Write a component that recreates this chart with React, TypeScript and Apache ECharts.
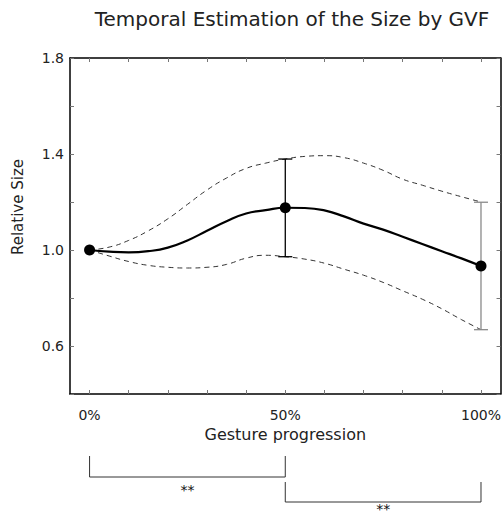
import React, { useEffect, useRef } from "react";
import * as echarts from "echarts";

const progress = [0, 5, 10, 15, 20, 25, 30, 35, 40, 45, 50, 55, 60, 65, 70, 75, 80, 85, 90, 95, 100];
const meanSize = [1.0, 0.993, 0.99, 0.995, 1.01, 1.04, 1.08, 1.12, 1.152, 1.166, 1.176, 1.175, 1.165, 1.14, 1.11, 1.085, 1.055, 1.025, 0.995, 0.965, 0.933];
const upperSize = [1.0, 1.012, 1.04, 1.08, 1.13, 1.19, 1.25, 1.3, 1.34, 1.362, 1.379, 1.39, 1.393, 1.385, 1.362, 1.332, 1.295, 1.27, 1.245, 1.222, 1.2];
const lowerSize = [1.0, 0.975, 0.952, 0.936, 0.928, 0.925, 0.928, 0.94, 0.966, 0.978, 0.972, 0.962, 0.945, 0.92, 0.895, 0.865, 0.83, 0.795, 0.755, 0.71, 0.668];

const markerX = [0, 50, 100];
const markerY = [1.0, 1.176, 0.933];

const errX = [50, 100];
const errLow = [0.972, 0.668];
const errHigh = [1.379, 1.199];
const errColors = ["#000000", "#8a8a8a"];

const xTicks = [0, 10, 20, 30, 40, 50, 60, 70, 80, 90, 100];
const xLabels = [0, 50, 100];
const yLabels = [0.6, 1.0, 1.4, 1.8];

const comparisons = [
  { from: 0, to: 50, label: "**", top: 456, bottom: 477, labelY: 490 },
  { from: 50, to: 100, label: "**", top: 482, bottom: 502, labelY: 509 },
];

const FONT = "DejaVu Sans";

export default function App() {
  const ref = useRef<HTMLDivElement>(null);
  useEffect(() => {
    if (!ref.current) return;
    const chart = echarts.init(ref.current, null, { renderer: "svg" });
    const pair = (ys: number[]) => progress.map((x, i) => [x, ys[i]]);
    const tickStyle = { show: true, inside: true, length: 4, lineStyle: { color: "#777", width: 1 } };
    const lineStyle = { show: true, onZero: false, lineStyle: { color: "#000", width: 1.5 } };
    chart.setOption({
      animation: false,
      backgroundColor: "#fff",
      title: {
        text: "Temporal Estimation of the Size by GVF",
        left: 287,
        top: 4,
        textAlign: "center",
        textStyle: { fontFamily: FONT, fontSize: 20, fontWeight: "normal", color: "#222" },
      },
      grid: { left: 70, top: 58, width: 431, height: 336, containLabel: false },
      xAxis: [
        {
          type: "value",
          min: -5,
          max: 105,
          position: "bottom",
          axisLine: lineStyle,
          axisTick: { ...tickStyle, customValues: xTicks },
          axisLabel: {
            customValues: xLabels,
            formatter: (v: number) => v + "%",
            fontFamily: FONT,
            fontSize: 14,
            color: "#222",
            margin: 14,
          },
          splitLine: { show: false },
          name: "Gesture progression",
          nameLocation: "middle",
          nameGap: 31,
          nameTextStyle: { fontFamily: FONT, fontSize: 16, color: "#222" },
        },
        {
          type: "value",
          min: -5,
          max: 105,
          position: "top",
          axisLine: lineStyle,
          axisTick: { ...tickStyle, customValues: xTicks },
          axisLabel: { show: false },
          splitLine: { show: false },
        },
      ],
      yAxis: [
        {
          type: "value",
          min: 0.4,
          max: 1.8,
          interval: 0.2,
          position: "left",
          axisLine: lineStyle,
          axisTick: tickStyle,
          axisLabel: {
            customValues: yLabels,
            formatter: (v: number) => v.toFixed(1),
            fontFamily: FONT,
            fontSize: 14,
            color: "#222",
            margin: 6,
          },
          splitLine: { show: false },
        },
        {
          type: "value",
          min: 0.4,
          max: 1.8,
          interval: 0.2,
          position: "right",
          axisLine: lineStyle,
          axisTick: tickStyle,
          axisLabel: { show: false },
          splitLine: { show: false },
        },
      ],
      series: [
        {
          type: "line",
          data: pair(upperSize),
          smooth: true,
          showSymbol: false,
          lineStyle: { color: "#333", width: 1, type: [5, 4] },
          z: 2,
        },
        {
          type: "line",
          data: pair(lowerSize),
          smooth: true,
          showSymbol: false,
          lineStyle: { color: "#333", width: 1, type: [5, 4] },
          z: 2,
        },
        {
          type: "line",
          data: pair(meanSize),
          smooth: true,
          showSymbol: false,
          lineStyle: { color: "#000", width: 2.2 },
          z: 3,
        },
        {
          type: "custom",
          data: errX.map((x, i) => [x, errLow[i], errHigh[i], i]),
          renderItem: (params: any, api: any) => {
            const x = api.value(0);
            const lo = api.coord([x, api.value(1)]);
            const hi = api.coord([x, api.value(2)]);
            const color = errColors[api.value(3)];
            const hw = 7;
            const style = { stroke: color, lineWidth: 1.3 };
            return {
              type: "group",
              children: [
                { type: "line", shape: { x1: lo[0], y1: lo[1], x2: hi[0], y2: hi[1] }, style },
                { type: "line", shape: { x1: hi[0] - hw, y1: hi[1], x2: hi[0] + hw, y2: hi[1] }, style },
                { type: "line", shape: { x1: lo[0] - hw, y1: lo[1], x2: lo[0] + hw, y2: lo[1] }, style },
              ],
            };
          },
          z: 4,
        },
        {
          type: "scatter",
          data: markerX.map((x, i) => [x, markerY[i]]),
          symbol: "circle",
          symbolSize: 11,
          itemStyle: { color: "#000", opacity: 1 },
          z: 5,
        },
      ],
    });

    const graphics: any[] = [
      {
        type: "text",
        x: 18,
        y: 207,
        rotation: Math.PI / 2,
        style: {
          text: "Relative Size",
          fontFamily: FONT,
          fontSize: 15,
          fill: "#222",
          align: "center",
          verticalAlign: "middle",
        },
      },
    ];
    comparisons.forEach((c) => {
      const x1 = chart.convertToPixel({ xAxisIndex: 0 }, c.from) as number;
      const x2 = chart.convertToPixel({ xAxisIndex: 0 }, c.to) as number;
      graphics.push({
        type: "polyline",
        shape: { points: [[x1, c.top], [x1, c.bottom], [x2, c.bottom], [x2, c.top]] },
        style: { stroke: "#333", lineWidth: 1, fill: null },
      });
      graphics.push({
        type: "text",
        x: (x1 + x2) / 2,
        y: c.labelY,
        style: {
          text: c.label,
          fontFamily: FONT,
          fontSize: 14,
          fill: "#111",
          align: "center",
          verticalAlign: "middle",
        },
      });
    });
    chart.setOption({ graphic: graphics });

    return () => chart.dispose();
  }, []);
  return <div ref={ref} style={{ width: 504, height: 518, position: "absolute", left: 0, top: 0 }} />;
}
